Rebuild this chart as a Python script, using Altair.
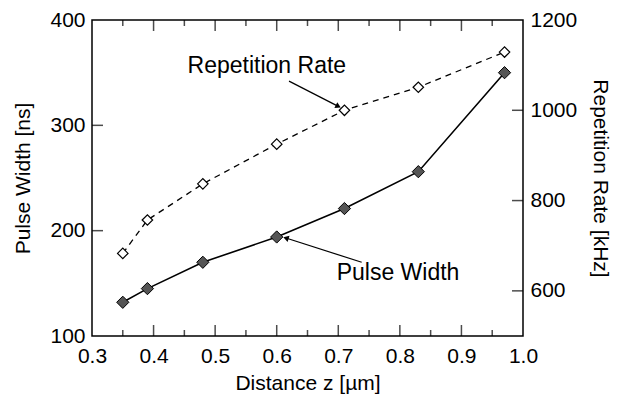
import math
import altair as alt
import pandas as pd

# ---- data ----
distance = [0.35, 0.39, 0.48, 0.60, 0.71, 0.83, 0.97]
pulse_width = [132, 145, 170, 194, 221, 256, 350]
rep_rate = [683, 757, 837, 925, 1000, 1051, 1129]

x_major = [0.3, 0.4, 0.5, 0.6, 0.7, 0.8, 0.9, 1.0]
x_minor = [0.35, 0.45, 0.55, 0.65, 0.75, 0.85, 0.95]
left_ticks = [100, 200, 300, 400]
right_ticks = [600, 800, 1000, 1200]

ann_text = ["Repetition Rate", "Pulse Width"]
ann_x = [0.584, 0.797]
ann_y = [356, 160]
arrow_x0 = [0.62, 0.738]
arrow_y0 = [342, 170]
arrow_x1 = [0.700, 0.615]
arrow_y1 = [318, 193]

W, H = 431, 316
XDOM = [0.3, 1.0]
YL = [100, 400]
YR = [500, 1200]
FONT = "Liberation Sans"
LFS = 21
TFS = 21

# ---- frames ----
pw_df = pd.DataFrame({"z": distance, "v": pulse_width})
rr_df = pd.DataFrame({"z": distance, "v": rep_rate})
maj_df = pd.DataFrame({"z": x_major[1:-1]})
min_df = pd.DataFrame({"z": x_minor})
lt_df = pd.DataFrame({"v": left_ticks[1:-1]})
rt_df = pd.DataFrame({"v": right_ticks[:-1]})
ann_df = pd.DataFrame({"z": ann_x, "v": ann_y, "t": ann_text})

pxx = W / (XDOM[1] - XDOM[0])
pxy = H / (YL[1] - YL[0])
angles = []
for a, b, c, d in zip(arrow_x0, arrow_y0, arrow_x1, arrow_y1):
    dx = (c - a) * pxx
    dy = -(d - b) * pxy
    ang = math.degrees(math.atan2(dx, -dy)) % 360
    angles.append(ang)
arr_df = pd.DataFrame({"z": arrow_x0, "v": arrow_y0, "z2": arrow_x1, "v2": arrow_y1, "ang": angles})

xscale = alt.Scale(domain=XDOM, nice=False, zero=False)
xaxis = alt.Axis(values=x_major, format=".1f", tickSize=0, domain=False, grid=False,
                 labelFontSize=LFS, labelPadding=9, labelFlush=False, labelColor="black",
                 title="Distance z [µm]", titleFontSize=TFS, titleFontWeight="normal",
                 titleColor="black", titlePadding=6, labelFont=FONT, titleFont=FONT)
ylscale = alt.Scale(domain=YL, nice=False, zero=False)
ylaxis = alt.Axis(values=left_ticks, tickSize=0, domain=False, grid=False,
                  labelFontSize=LFS, labelPadding=7, labelColor="black",
                  title="Pulse Width [ns]", titleFontSize=TFS, titleFontWeight="normal",
                  titleColor="black", titlePadding=16, labelFont=FONT, titleFont=FONT)
yrscale = alt.Scale(domain=YR, nice=False, zero=False)
yraxis = alt.Axis(values=right_ticks, format="d", orient="right", tickSize=0, domain=False,
                  grid=False, labelFontSize=LFS, labelPadding=7, labelColor="black",
                  title="Repetition Rate [kHz]", titleFontSize=TFS, titleFontWeight="normal",
                  titleColor="black", titlePadding=13, labelFont=FONT, titleFont=FONT)


def X(field="z"):
    return alt.X(f"{field}:Q", scale=xscale, axis=xaxis)


def XD(val):
    return alt.X(datum=val, scale=xscale, axis=xaxis, type="quantitative")


def YLf(field="v"):
    return alt.Y(f"{field}:Q", scale=ylscale, axis=ylaxis)


def YLd(val):
    return alt.Y(datum=val, scale=ylscale, axis=ylaxis, type="quantitative")


def YRf(field="v"):
    return alt.Y(f"{field}:Q", scale=yrscale, axis=yraxis)


# ---- left (pulse width) layers ----
pw_line = alt.Chart(pw_df).mark_line(color="black", strokeWidth=1.6).encode(x=X(), y=YLf())
pw_pts = alt.Chart(pw_df).mark_point(shape="diamond", filled=True, fill="#555555", stroke="black",
                                     strokeWidth=1, size=150, opacity=1).encode(x=X(), y=YLf())

bot_major = alt.Chart(maj_df).mark_tick(orient="vertical", size=11, thickness=1.5, color="black",
                                        yOffset=-5.5).encode(x=X(), y=YLd(YL[0]))
bot_minor = alt.Chart(min_df).mark_tick(orient="vertical", size=6, thickness=1.5, color="black",
                                        yOffset=-3).encode(x=X(), y=YLd(YL[0]))
top_major = alt.Chart(maj_df).mark_tick(orient="vertical", size=11, thickness=1.5, color="black",
                                        yOffset=5.5).encode(x=X(), y=YLd(YL[1]))
top_minor = alt.Chart(min_df).mark_tick(orient="vertical", size=6, thickness=1.5, color="black",
                                        yOffset=3).encode(x=X(), y=YLd(YL[1]))
left_t = alt.Chart(lt_df).mark_tick(orient="horizontal", size=11, thickness=1.5, color="black",
                                    xOffset=5.5).encode(x=XD(XDOM[0]), y=YLf())

ann = alt.Chart(ann_df).mark_text(font=FONT, fontSize=23, align="center", baseline="middle",
                                  color="black").encode(x=X(), y=YLf(), text="t:N")
arr_line = alt.Chart(arr_df).mark_rule(color="black", strokeWidth=1.2).encode(
    x=X(), y=YLf(), x2=alt.X2("z2:Q"), y2=alt.Y2("v2:Q"))
arr_head = alt.Chart(arr_df).mark_point(shape="triangle-up", filled=True, color="black", size=40,
                                        opacity=1).encode(
    x=X("z2"), y=YLf("v2"), angle=alt.Angle("ang:Q", scale=None))

left = alt.layer(pw_line, pw_pts, bot_major, bot_minor, top_major, top_minor, left_t,
                 ann, arr_line, arr_head)

# ---- right (repetition rate) layers ----
rr_line = alt.Chart(rr_df).mark_line(color="black", strokeWidth=1.3, strokeDash=[6, 5]).encode(
    x=X(), y=YRf())
rr_pts = alt.Chart(rr_df).mark_point(shape="diamond", filled=True, fill="white", stroke="black",
                                     strokeWidth=1.2, size=110, opacity=1).encode(x=X(), y=YRf())
right_t = alt.Chart(rt_df).mark_tick(orient="horizontal", size=11, thickness=1.5, color="black",
                                     xOffset=-5.5).encode(x=XD(XDOM[1]), y=YRf())

right = alt.layer(rr_line, rr_pts, right_t)

chart = alt.layer(left, right).resolve_scale(y="independent").properties(
    width=W, height=H,
    autosize=alt.AutoSizeParams(type="none"),
    padding={"left": 84, "top": 12, "right": 90, "bottom": 58},
    background="white",
).configure_view(stroke="black", strokeWidth=1.5)

chart.save("out.html", embed_options={"renderer": "svg", "actions": False})
